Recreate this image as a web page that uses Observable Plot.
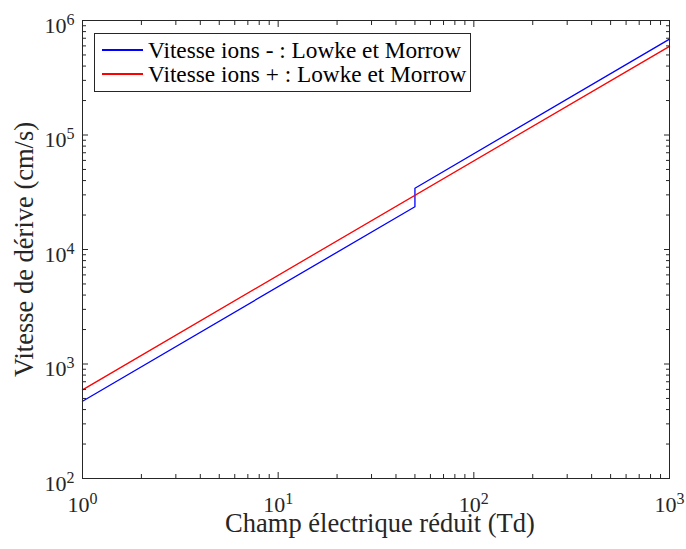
<!DOCTYPE html>
<html>
<head>
<meta charset="utf-8">
<script src="https://cdn.jsdelivr.net/npm/d3@7"></script>
<script src="https://cdn.jsdelivr.net/npm/@observablehq/plot@0.6"></script>
<style>
  body { margin: 0; background: #fff; }
  #wrap { position: relative; width: 686px; height: 549px; font-family: "Liberation Serif", serif; color: #262626; }
  #legend { position: absolute; left: 94px; top: 33px; width: 377px; height: 59px; border: 1px solid #262626; background: #fff; box-sizing: border-box; padding-top: 4px; }
  .row { display: flex; align-items: center; height: 24px; line-height: 24px; font-size: 23.3px; color: #000; white-space: nowrap; }
  .sw { display: inline-block; width: 41px; height: 1.3px; margin-left: 7px; margin-right: 5px; }
</style>
</head>
<body>
<div id="wrap"></div>
<script>
// ---- data ----
const fieldNeg = [1, 50, 50, 1000];          // Td
const speedNeg = [473, 23650, 34300, 687000]; // cm/s
const fieldPos = [1, 1000];
const speedPos = [595, 595000];
const seriesNames = ["Vitesse ions - : Lowke et Morrow", "Vitesse ions + : Lowke et Morrow"];
const seriesColors = ["#0000ff", "#ff0000"];
const xMajor = [1, 10, 100, 1000];
const yMajor = [1e2, 1e3, 1e4, 1e5, 1e6];
const xTitle = "Champ électrique réduit (Td)";
const yTitle = "Vitesse de dérive (cm/s)";

const negData = fieldNeg.map((x, i) => ({x, y: speedNeg[i]}));
const posData = fieldPos.map((x, i) => ({x, y: speedPos[i]}));

function minors(majors) {
  const out = [];
  for (let i = 0; i < majors.length - 1; i++)
    for (let m = 2; m <= 9; m++) out.push(majors[i] * m);
  return out;
}
const xMinor = minors(xMajor);
const yMinor = minors(yMajor);
const expFmt = d => String(Math.round(Math.log10(d)));
const blank = () => "";
const axisColor = "#262626";
const serif = "'Liberation Serif', serif";

const plot = Plot.plot({
  width: 686,
  height: 549,
  marginLeft: 82,
  marginRight: 17,
  marginTop: 20,
  marginBottom: 71,
  style: {fontFamily: serif, fontSize: "22px", color: axisColor, background: "#fff"},
  x: {type: "log", domain: [1, 1000]},
  y: {type: "log", domain: [100, 1e6]},
  marks: [
    Plot.line(negData, {x: "x", y: "y", stroke: seriesColors[0], strokeWidth: 1.3}),
    Plot.line(posData, {x: "x", y: "y", stroke: seriesColors[1], strokeWidth: 1.3}),
    // inward ticks on all four sides
    Plot.axisX({anchor: "bottom", ticks: xMajor, tickSize: -6, tickFormat: blank, label: null, stroke: axisColor}),
    Plot.axisX({anchor: "bottom", ticks: xMinor, tickSize: -4, tickFormat: blank, label: null, stroke: axisColor}),
    Plot.axisX({anchor: "top", ticks: xMajor, tickSize: -6, tickFormat: blank, label: null, stroke: axisColor}),
    Plot.axisX({anchor: "top", ticks: xMinor, tickSize: -4, tickFormat: blank, label: null, stroke: axisColor}),
    Plot.axisY({anchor: "left", ticks: yMajor, tickSize: -6, tickFormat: blank, label: null, stroke: axisColor}),
    Plot.axisY({anchor: "left", ticks: yMinor, tickSize: -4, tickFormat: blank, label: null, stroke: axisColor}),
    Plot.axisY({anchor: "right", ticks: yMajor, tickSize: -6, tickFormat: blank, label: null, stroke: axisColor}),
    Plot.axisY({anchor: "right", ticks: yMinor, tickSize: -4, tickFormat: blank, label: null, stroke: axisColor}),
    // labels
    Plot.axisX({anchor: "bottom", ticks: xMajor, tickSize: 0, tickPadding: 18, tickFormat: expFmt, label: null, fontSize: 22, fill: axisColor}),
    Plot.axisY({anchor: "left", ticks: yMajor, tickSize: 0, tickPadding: 8, tickFormat: expFmt, label: null, fontSize: 22, fill: axisColor, dy: 5}),
    Plot.frame({stroke: axisColor, strokeWidth: 1})
  ]
});

const wrap = document.getElementById("wrap");
wrap.appendChild(plot);

const svg = d3.select(plot);
// turn exponent labels into 10^n with superscripts
svg.selectAll('g[aria-label="x-axis tick label"] text, g[aria-label="y-axis tick label"] text').each(function() {
  const t = d3.select(this);
  const e = t.text();
  if (e === "") return;
  t.text(null);
  t.append("tspan").text("10");
  t.append("tspan").attr("dy", "-0.5em").attr("font-size", "16px").text(e);
});

// axis titles
svg.append("text")
  .attr("x", 380).attr("y", 532)
  .attr("text-anchor", "middle")
  .attr("font-size", 26.5).attr("fill", axisColor)
  .text(xTitle);
svg.append("text")
  .attr("transform", "translate(33,249.5) rotate(-90)")
  .attr("text-anchor", "middle")
  .attr("font-size", 26.5).attr("fill", axisColor)
  .text(yTitle);

// legend
const legend = document.createElement("div");
legend.id = "legend";
seriesNames.forEach((name, i) => {
  const row = document.createElement("div");
  row.className = "row";
  const sw = document.createElement("span");
  sw.className = "sw";
  sw.style.background = seriesColors[i];
  const label = document.createElement("span");
  label.textContent = name;
  row.appendChild(sw);
  row.appendChild(label);
  legend.appendChild(row);
});
wrap.appendChild(legend);
</script>
</body>
</html>
